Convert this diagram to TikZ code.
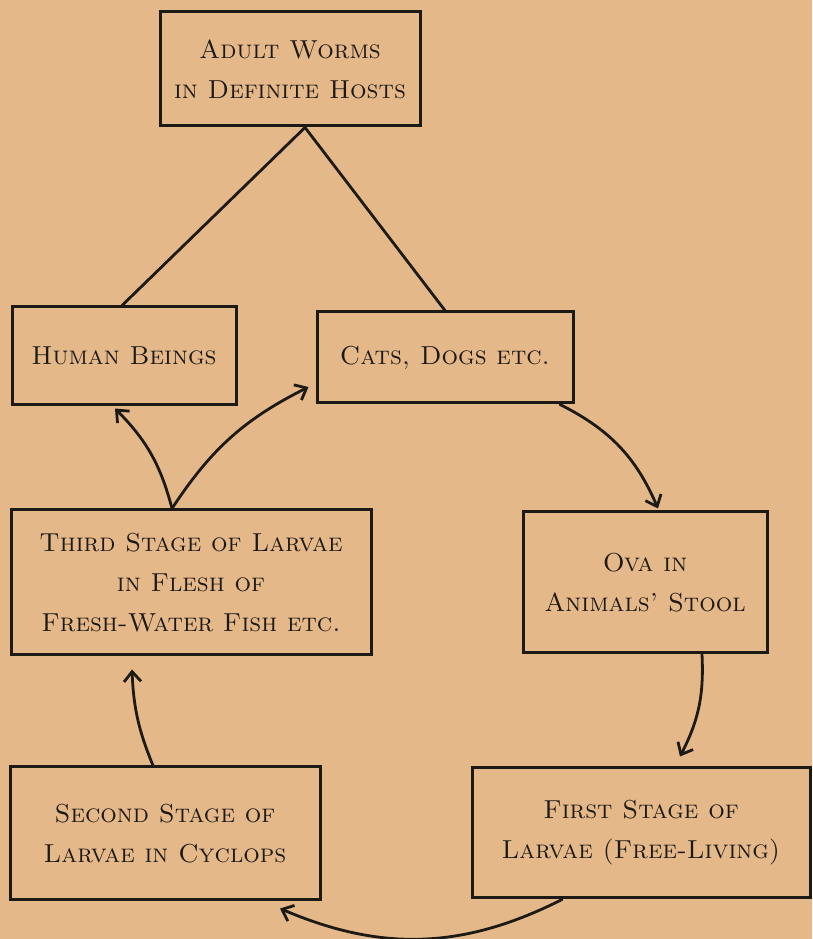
\documentclass[tikz,border=0pt]{standalone}
\usetikzlibrary{arrows.meta}
\definecolor{paper}{RGB}{229,184,138}
\definecolor{ink}{RGB}{28,26,20}
\begin{document}
\begin{tikzpicture}[x=1pt,y=1pt,
  box/.style={draw=ink, line width=3pt, rectangle, inner sep=0pt, align=center,
    font=\fontsize{26}{40}\selectfont\scshape, text=ink},
  link/.style={draw=ink, line width=2.8pt, line cap=round},
  arr/.style={link, -{Straight Barb[length=10pt,width=17pt,line width=2.8pt]}}]
\fill[paper] (0,0) rectangle (812,939);
\useasboundingbox (0,0) rectangle (812,939);

\node[box, minimum width=260pt, minimum height=114pt] (adult) at (290,870)
  {Adult Worms\\in Definite Hosts};
\node[box, minimum width=224pt, minimum height=98pt] (human) at (124,583)
  {Human Beings};
\node[box, minimum width=256pt, minimum height=91pt] (cats) at (445,581.5)
  {Cats, Dogs etc.};
\node[box, minimum width=360pt, minimum height=145pt] (third) at (191,356.5)
  {Third Stage of Larvae\\in Flesh of\\Fresh-Water Fish etc.};
\node[box, minimum width=244pt, minimum height=141pt] (ova) at (645,356.5)
  {Ova in\\Animals' Stool};
\node[box, minimum width=310pt, minimum height=133pt] (second) at (165,105.5)
  {Second Stage of\\Larvae in Cyclops};
\node[box, minimum width=338pt, minimum height=130pt] (first) at (641,106)
  {First Stage of\\Larvae (Free-Living)};

\draw[link] ([xshift=15pt]adult.south) -- ([xshift=-2pt]human.north);
\draw[link] ([xshift=15pt]adult.south) -- (cats.north);

\draw[arr] ([xshift=-19pt]third.north) to[bend right=15] ([xshift=-9pt,yshift=-2pt]human.south);
\draw[arr] ([xshift=-19pt]third.north) to[bend left=15] ([xshift=-7pt,yshift=-29.5pt]cats.west);
\draw[arr] ([xshift=115pt]cats.south) to[bend left=20] ([xshift=13pt,yshift=2pt]ova.north);
\draw[arr] ([xshift=57pt]ova.south) to[bend left=15] ([xshift=39pt,yshift=10pt]first.north);
\draw[arr] ([xshift=-79pt]first.south) to[bend left=25] ([xshift=115pt,yshift=-7pt]second.south);
\draw[arr] ([xshift=-12pt]second.north) to[bend left=10] ([xshift=-59pt,yshift=-13pt]third.south);
\end{tikzpicture}
\end{document}
